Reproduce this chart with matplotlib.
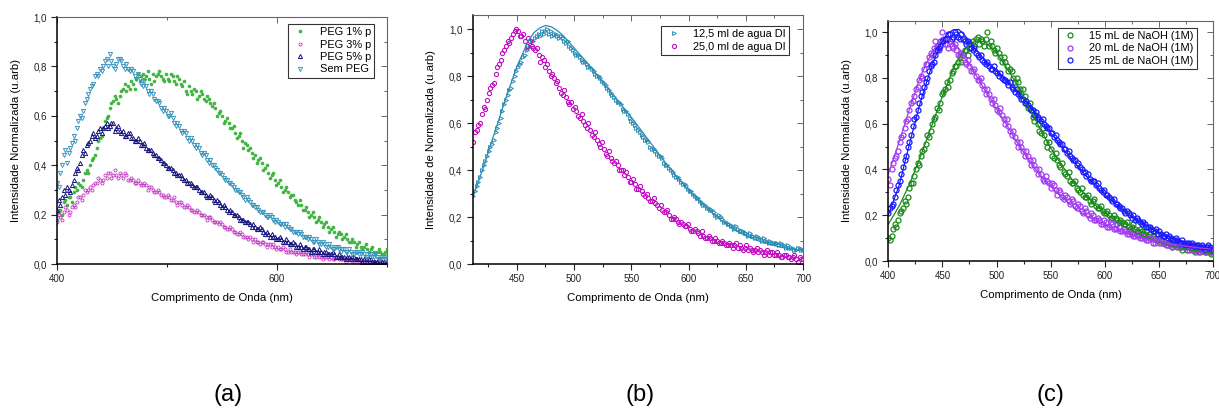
import matplotlib
matplotlib.use("Agg")
import matplotlib.pyplot as plt
import numpy as np
from matplotlib.ticker import FuncFormatter, MultipleLocator

plt.rcParams["font.family"] = ["Liberation Sans", "DejaVu Sans"]

# ---- panel (a): PEG series, wavelength grid 400..700 nm every 1.5 nm
wl_a = np.arange(400, 700.1, 1.5)
peg1 = [0.18, 0.21, 0.22, 0.20, 0.25, 0.26, 0.24, 0.27, 0.27, 0.25, 0.29, 0.31, 0.30, 0.33, 0.32, 0.31, 0.34, 0.37, 0.38, 0.37,
        0.40, 0.42, 0.43, 0.44, 0.47, 0.50, 0.51, 0.52, 0.55, 0.58, 0.59, 0.60, 0.63, 0.65, 0.66, 0.68, 0.67, 0.65, 0.68, 0.70,
        0.71, 0.73, 0.70, 0.72, 0.71, 0.74, 0.73, 0.71, 0.75, 0.77, 0.74, 0.76, 0.77, 0.75, 0.76, 0.78, 0.75, 0.73, 0.77, 0.74,
        0.76, 0.77, 0.78, 0.76, 0.75, 0.74, 0.77, 0.75, 0.74, 0.77, 0.76, 0.74, 0.73, 0.76, 0.75, 0.73, 0.72, 0.74, 0.70, 0.69,
        0.72, 0.70, 0.69, 0.71, 0.70, 0.67, 0.68, 0.70, 0.69, 0.67, 0.66, 0.68, 0.67, 0.65, 0.64, 0.65, 0.63, 0.60, 0.61, 0.62,
        0.60, 0.57, 0.58, 0.59, 0.57, 0.55, 0.55, 0.56, 0.53, 0.51, 0.52, 0.53, 0.50, 0.47, 0.49, 0.48, 0.46, 0.47, 0.45, 0.43,
        0.44, 0.41, 0.42, 0.43, 0.41, 0.38, 0.39, 0.40, 0.37, 0.35, 0.36, 0.37, 0.34, 0.32, 0.33, 0.34, 0.31, 0.29, 0.30, 0.31,
        0.29, 0.27, 0.28, 0.28, 0.26, 0.25, 0.24, 0.26, 0.24, 0.22, 0.22, 0.23, 0.21, 0.19, 0.20, 0.21, 0.19, 0.17, 0.18, 0.19,
        0.17, 0.15, 0.16, 0.17, 0.15, 0.13, 0.14, 0.15, 0.13, 0.11, 0.12, 0.13, 0.12, 0.10, 0.11, 0.12, 0.10, 0.09, 0.09, 0.10,
        0.09, 0.07, 0.08, 0.09, 0.07, 0.06, 0.07, 0.08, 0.06, 0.05, 0.06, 0.07, 0.05, 0.04, 0.05, 0.06, 0.05, 0.04, 0.04, 0.05,
        0.06]
peg3 = [0.17, 0.20, 0.19, 0.18, 0.21, 0.23, 0.22, 0.20, 0.21, 0.23, 0.24, 0.23, 0.25, 0.27, 0.27, 0.26, 0.28, 0.30, 0.29, 0.30,
        0.31, 0.30, 0.32, 0.33, 0.33, 0.35, 0.34, 0.33, 0.34, 0.36, 0.35, 0.37, 0.37, 0.35, 0.36, 0.38, 0.36, 0.35, 0.37, 0.36,
        0.35, 0.37, 0.36, 0.34, 0.34, 0.35, 0.34, 0.33, 0.33, 0.34, 0.33, 0.32, 0.32, 0.33, 0.32, 0.30, 0.31, 0.31, 0.30, 0.29,
        0.29, 0.30, 0.29, 0.28, 0.28, 0.27, 0.27, 0.28, 0.27, 0.26, 0.26, 0.27, 0.25, 0.24, 0.25, 0.25, 0.24, 0.23, 0.23, 0.24,
        0.23, 0.22, 0.22, 0.21, 0.21, 0.22, 0.21, 0.20, 0.20, 0.20, 0.19, 0.18, 0.19, 0.19, 0.18, 0.17, 0.17, 0.17, 0.16, 0.17,
        0.16, 0.15, 0.15, 0.14, 0.14, 0.15, 0.14, 0.13, 0.13, 0.12, 0.12, 0.13, 0.12, 0.11, 0.11, 0.11, 0.10, 0.11, 0.10, 0.09,
        0.10, 0.09, 0.09, 0.08, 0.09, 0.09, 0.08, 0.07, 0.08, 0.08, 0.07, 0.08, 0.07, 0.06, 0.07, 0.06, 0.06, 0.07, 0.06, 0.05,
        0.05, 0.06, 0.05, 0.05, 0.05, 0.04, 0.05, 0.05, 0.04, 0.04, 0.04, 0.05, 0.04, 0.03, 0.04, 0.04, 0.03, 0.03, 0.04, 0.03,
        0.03, 0.02, 0.03, 0.03, 0.03, 0.02, 0.03, 0.02, 0.02, 0.03, 0.03, 0.02, 0.02, 0.02, 0.02, 0.01, 0.02, 0.02, 0.02, 0.01,
        0.01, 0.02, 0.02, 0.01, 0.01, 0.01, 0.01, 0.02, 0.01, 0.01, 0.01, 0.00, 0.01, 0.01, 0.01, 0.01, 0.00, 0.01, 0.01, 0.00,
        0.00]
peg5 = [0.22, 0.26, 0.24, 0.27, 0.30, 0.28, 0.31, 0.30, 0.29, 0.32, 0.34, 0.37, 0.39, 0.38, 0.41, 0.44, 0.46, 0.45, 0.48, 0.49,
        0.50, 0.52, 0.53, 0.51, 0.52, 0.54, 0.55, 0.53, 0.55, 0.56, 0.57, 0.55, 0.56, 0.57, 0.57, 0.54, 0.55, 0.56, 0.54, 0.53,
        0.54, 0.52, 0.52, 0.53, 0.53, 0.51, 0.51, 0.50, 0.50, 0.51, 0.50, 0.48, 0.48, 0.49, 0.47, 0.46, 0.46, 0.46, 0.45, 0.44,
        0.44, 0.43, 0.43, 0.42, 0.41, 0.41, 0.40, 0.39, 0.39, 0.39, 0.38, 0.37, 0.37, 0.36, 0.36, 0.36, 0.35, 0.34, 0.34, 0.33,
        0.33, 0.33, 0.32, 0.31, 0.31, 0.31, 0.30, 0.29, 0.29, 0.29, 0.28, 0.27, 0.27, 0.28, 0.27, 0.26, 0.25, 0.26, 0.25, 0.24,
        0.23, 0.24, 0.23, 0.22, 0.21, 0.22, 0.21, 0.20, 0.20, 0.20, 0.19, 0.18, 0.18, 0.18, 0.17, 0.17, 0.17, 0.16, 0.15, 0.16,
        0.15, 0.14, 0.14, 0.15, 0.14, 0.13, 0.12, 0.13, 0.12, 0.11, 0.12, 0.11, 0.11, 0.10, 0.10, 0.11, 0.10, 0.09, 0.09, 0.10,
        0.09, 0.08, 0.08, 0.09, 0.08, 0.07, 0.07, 0.08, 0.07, 0.06, 0.07, 0.07, 0.06, 0.06, 0.05, 0.06, 0.06, 0.05, 0.05, 0.06,
        0.05, 0.04, 0.05, 0.05, 0.04, 0.04, 0.04, 0.05, 0.04, 0.03, 0.03, 0.04, 0.03, 0.03, 0.03, 0.02, 0.03, 0.03, 0.02, 0.03,
        0.03, 0.02, 0.02, 0.02, 0.02, 0.01, 0.02, 0.02, 0.01, 0.02, 0.02, 0.01, 0.01, 0.01, 0.01, 0.02, 0.01, 0.01, 0.01, 0.00,
        0.01]
sem_peg = [0.33, 0.31, 0.37, 0.40, 0.44, 0.46, 0.41, 0.45, 0.47, 0.49, 0.52, 0.50, 0.55, 0.58, 0.60, 0.59, 0.62, 0.65, 0.67, 0.69,
           0.71, 0.72, 0.73, 0.76, 0.77, 0.76, 0.79, 0.78, 0.80, 0.82, 0.83, 0.80, 0.85, 0.82, 0.80, 0.79, 0.81, 0.83, 0.83, 0.82,
           0.80, 0.79, 0.81, 0.79, 0.78, 0.79, 0.78, 0.76, 0.75, 0.77, 0.75, 0.73, 0.72, 0.74, 0.72, 0.70, 0.69, 0.70, 0.69, 0.67,
           0.66, 0.66, 0.65, 0.63, 0.62, 0.63, 0.62, 0.60, 0.60, 0.61, 0.59, 0.57, 0.56, 0.57, 0.56, 0.54, 0.53, 0.54, 0.53, 0.51,
           0.50, 0.51, 0.50, 0.48, 0.47, 0.48, 0.47, 0.45, 0.44, 0.45, 0.44, 0.42, 0.41, 0.42, 0.40, 0.40, 0.39, 0.38, 0.37, 0.37,
           0.36, 0.35, 0.34, 0.34, 0.33, 0.33, 0.32, 0.31, 0.30, 0.30, 0.29, 0.29, 0.28, 0.27, 0.26, 0.27, 0.26, 0.25, 0.24, 0.24,
           0.23, 0.23, 0.22, 0.21, 0.21, 0.21, 0.20, 0.19, 0.19, 0.20, 0.19, 0.18, 0.17, 0.18, 0.17, 0.16, 0.16, 0.16, 0.15, 0.16,
           0.15, 0.14, 0.14, 0.13, 0.13, 0.13, 0.12, 0.13, 0.12, 0.11, 0.11, 0.11, 0.10, 0.11, 0.10, 0.09, 0.09, 0.10, 0.09, 0.08,
           0.08, 0.09, 0.08, 0.07, 0.07, 0.08, 0.07, 0.06, 0.06, 0.07, 0.07, 0.06, 0.05, 0.06, 0.06, 0.05, 0.05, 0.06, 0.05, 0.04,
           0.04, 0.05, 0.05, 0.04, 0.04, 0.05, 0.04, 0.03, 0.03, 0.04, 0.04, 0.03, 0.03, 0.04, 0.03, 0.02, 0.02, 0.03, 0.03, 0.02,
           0.02]

# ---- panel (b): agua DI, grid 412..700 nm every 1.5 nm
wl_b = np.arange(412, 700.1, 1.5)
agua_125 = [0.29, 0.31, 0.33, 0.35, 0.37, 0.40, 0.42, 0.44, 0.46, 0.48, 0.50, 0.51, 0.53, 0.56, 0.58, 0.60, 0.62, 0.65, 0.68, 0.70,
            0.72, 0.74, 0.75, 0.78, 0.80, 0.82, 0.84, 0.85, 0.86, 0.88, 0.89, 0.91, 0.92, 0.93, 0.95, 0.95, 0.96, 0.97, 0.98, 0.97,
            0.99, 0.98, 0.99, 1.00, 0.98, 0.99, 0.97, 0.98, 0.98, 0.97, 0.96, 0.97, 0.96, 0.95, 0.94, 0.95, 0.93, 0.92, 0.91, 0.90,
            0.89, 0.89, 0.88, 0.87, 0.86, 0.86, 0.85, 0.84, 0.84, 0.83, 0.82, 0.81, 0.80, 0.80, 0.79, 0.78, 0.77, 0.76, 0.75, 0.74,
            0.73, 0.72, 0.71, 0.70, 0.69, 0.69, 0.68, 0.66, 0.65, 0.65, 0.64, 0.62, 0.61, 0.60, 0.59, 0.58, 0.57, 0.56, 0.55, 0.54,
            0.53, 0.53, 0.52, 0.50, 0.49, 0.49, 0.48, 0.47, 0.46, 0.46, 0.45, 0.43, 0.42, 0.42, 0.41, 0.40, 0.39, 0.38, 0.37, 0.37,
            0.36, 0.35, 0.34, 0.34, 0.33, 0.32, 0.31, 0.31, 0.30, 0.29, 0.28, 0.28, 0.27, 0.26, 0.25, 0.25, 0.24, 0.24, 0.23, 0.23,
            0.22, 0.21, 0.20, 0.21, 0.20, 0.19, 0.18, 0.18, 0.17, 0.17, 0.16, 0.16, 0.15, 0.16, 0.15, 0.14, 0.14, 0.14, 0.13, 0.13,
            0.12, 0.13, 0.12, 0.12, 0.11, 0.12, 0.11, 0.11, 0.10, 0.11, 0.10, 0.10, 0.09, 0.10, 0.09, 0.09, 0.09, 0.09, 0.08, 0.09,
            0.08, 0.08, 0.07, 0.08, 0.07, 0.07, 0.07, 0.06, 0.06, 0.07, 0.07, 0.06, 0.06]
agua_250 = [0.52, 0.56, 0.57, 0.59, 0.60, 0.64, 0.67, 0.66, 0.70, 0.73, 0.75, 0.76, 0.77, 0.81, 0.84, 0.85, 0.87, 0.90, 0.91, 0.93,
            0.95, 0.94, 0.96, 0.98, 0.99, 1.00, 0.99, 0.97, 0.97, 0.98, 0.95, 0.93, 0.96, 0.95, 0.93, 0.92, 0.91, 0.92, 0.89, 0.86,
            0.88, 0.87, 0.84, 0.85, 0.82, 0.80, 0.81, 0.79, 0.77, 0.78, 0.75, 0.73, 0.72, 0.74, 0.71, 0.69, 0.68, 0.69, 0.66, 0.67,
            0.65, 0.63, 0.62, 0.64, 0.61, 0.59, 0.58, 0.60, 0.57, 0.55, 0.54, 0.56, 0.53, 0.51, 0.50, 0.52, 0.49, 0.47, 0.46, 0.48,
            0.45, 0.44, 0.43, 0.44, 0.42, 0.40, 0.40, 0.40, 0.38, 0.39, 0.37, 0.35, 0.35, 0.36, 0.34, 0.32, 0.32, 0.33, 0.31, 0.30,
            0.29, 0.30, 0.28, 0.27, 0.27, 0.28, 0.26, 0.25, 0.24, 0.25, 0.23, 0.22, 0.22, 0.23, 0.21, 0.19, 0.19, 0.20, 0.19, 0.18,
            0.17, 0.18, 0.17, 0.16, 0.16, 0.17, 0.15, 0.14, 0.14, 0.15, 0.14, 0.13, 0.12, 0.14, 0.12, 0.11, 0.11, 0.12, 0.11, 0.10,
            0.10, 0.11, 0.10, 0.09, 0.09, 0.10, 0.09, 0.08, 0.08, 0.09, 0.08, 0.07, 0.08, 0.09, 0.07, 0.08, 0.07, 0.06, 0.07, 0.08,
            0.06, 0.07, 0.06, 0.05, 0.06, 0.07, 0.05, 0.06, 0.05, 0.04, 0.05, 0.06, 0.04, 0.05, 0.05, 0.04, 0.04, 0.05, 0.04, 0.03,
            0.03, 0.04, 0.04, 0.03, 0.03, 0.02, 0.03, 0.04, 0.02, 0.01, 0.03, 0.02, 0.02]
fit_b_x = [412, 420, 430, 440, 450, 460, 465, 470, 475, 480, 485, 490,
           500, 510, 520, 530, 540, 550, 560, 570, 580, 590, 600, 610,
           620, 630, 640, 650, 660, 670, 680, 690, 700]
fit_125 = [0.29, 0.40, 0.55, 0.70, 0.84, 0.95, 0.985, 1.005, 1.015, 1.01,
           0.995, 0.975, 0.92, 0.865, 0.805, 0.745, 0.685, 0.625, 0.56,
           0.495, 0.43, 0.37, 0.315, 0.265, 0.22, 0.18, 0.145, 0.12, 0.10,
           0.085, 0.072, 0.063, 0.058]

# ---- panel (c): NaOH, grid 400..700 nm every 1.5 nm
wl_c = np.arange(400, 700.1, 1.5)
naoh_15 = [0.10, 0.09, 0.11, 0.14, 0.16, 0.15, 0.18, 0.21, 0.22, 0.23, 0.26, 0.25, 0.28, 0.32, 0.34, 0.34, 0.37, 0.40, 0.43, 0.42,
           0.46, 0.48, 0.49, 0.51, 0.55, 0.54, 0.57, 0.60, 0.62, 0.63, 0.67, 0.66, 0.69, 0.73, 0.74, 0.75, 0.78, 0.76, 0.79, 0.82,
           0.83, 0.85, 0.85, 0.87, 0.89, 0.87, 0.90, 0.92, 0.92, 0.90, 0.93, 0.95, 0.96, 0.94, 0.97, 0.98, 0.95, 0.97, 0.96, 0.94,
           0.97, 1.00, 0.94, 0.96, 0.94, 0.92, 0.91, 0.93, 0.91, 0.89, 0.87, 0.89, 0.87, 0.85, 0.83, 0.84, 0.83, 0.80, 0.78, 0.80,
           0.78, 0.75, 0.73, 0.75, 0.72, 0.69, 0.67, 0.69, 0.66, 0.63, 0.61, 0.64, 0.60, 0.57, 0.56, 0.58, 0.55, 0.52, 0.50, 0.52,
           0.49, 0.46, 0.45, 0.47, 0.44, 0.42, 0.41, 0.43, 0.39, 0.38, 0.37, 0.39, 0.35, 0.34, 0.34, 0.35, 0.32, 0.31, 0.30, 0.32,
           0.29, 0.28, 0.28, 0.29, 0.26, 0.25, 0.26, 0.27, 0.24, 0.23, 0.23, 0.24, 0.22, 0.21, 0.21, 0.22, 0.20, 0.19, 0.19, 0.20,
           0.19, 0.18, 0.17, 0.18, 0.17, 0.16, 0.16, 0.17, 0.15, 0.14, 0.15, 0.16, 0.14, 0.13, 0.13, 0.14, 0.13, 0.12, 0.12, 0.13,
           0.11, 0.12, 0.10, 0.11, 0.10, 0.09, 0.09, 0.10, 0.09, 0.08, 0.08, 0.09, 0.07, 0.08, 0.07, 0.06, 0.07, 0.08, 0.06, 0.07,
           0.06, 0.05, 0.06, 0.07, 0.05, 0.06, 0.06, 0.05, 0.05, 0.04, 0.05, 0.06, 0.04, 0.05, 0.05, 0.04, 0.04, 0.05, 0.04, 0.03,
           0.04]
naoh_20 = [0.36, 0.33, 0.40, 0.43, 0.45, 0.46, 0.48, 0.52, 0.54, 0.55, 0.58, 0.61, 0.62, 0.66, 0.69, 0.70, 0.72, 0.75, 0.76, 0.79,
           0.81, 0.80, 0.84, 0.86, 0.86, 0.89, 0.91, 0.90, 0.93, 0.96, 0.94, 0.92, 0.96, 1.00, 0.97, 0.95, 0.95, 0.93, 0.96, 0.94,
           0.93, 0.95, 0.92, 0.90, 0.90, 0.91, 0.90, 0.87, 0.86, 0.88, 0.85, 0.83, 0.83, 0.84, 0.81, 0.79, 0.79, 0.80, 0.77, 0.75,
           0.73, 0.75, 0.73, 0.71, 0.69, 0.71, 0.68, 0.66, 0.65, 0.67, 0.64, 0.62, 0.60, 0.62, 0.59, 0.57, 0.55, 0.57, 0.54, 0.52,
           0.50, 0.52, 0.50, 0.48, 0.46, 0.48, 0.46, 0.44, 0.42, 0.44, 0.42, 0.40, 0.38, 0.40, 0.38, 0.36, 0.35, 0.37, 0.35, 0.34,
           0.32, 0.34, 0.33, 0.31, 0.29, 0.31, 0.30, 0.28, 0.27, 0.29, 0.28, 0.26, 0.25, 0.27, 0.26, 0.24, 0.23, 0.25, 0.24, 0.22,
           0.21, 0.23, 0.22, 0.20, 0.19, 0.21, 0.20, 0.18, 0.18, 0.19, 0.18, 0.16, 0.16, 0.18, 0.17, 0.15, 0.15, 0.17, 0.16, 0.14,
           0.14, 0.16, 0.15, 0.13, 0.13, 0.14, 0.13, 0.12, 0.12, 0.13, 0.12, 0.11, 0.11, 0.12, 0.11, 0.10, 0.10, 0.11, 0.10, 0.09,
           0.09, 0.10, 0.10, 0.08, 0.08, 0.09, 0.09, 0.08, 0.08, 0.09, 0.08, 0.07, 0.07, 0.08, 0.08, 0.06, 0.07, 0.08, 0.07, 0.06,
           0.06, 0.07, 0.07, 0.06, 0.06, 0.05, 0.06, 0.07, 0.05, 0.06, 0.06, 0.04, 0.05, 0.06, 0.05, 0.04, 0.05, 0.06, 0.05, 0.04,
           0.05]
naoh_25 = [0.21, 0.23, 0.24, 0.25, 0.28, 0.31, 0.33, 0.35, 0.38, 0.41, 0.44, 0.46, 0.50, 0.52, 0.55, 0.59, 0.62, 0.63, 0.66, 0.69,
           0.72, 0.74, 0.76, 0.78, 0.80, 0.83, 0.85, 0.86, 0.87, 0.90, 0.92, 0.93, 0.94, 0.96, 0.96, 0.97, 0.97, 0.99, 0.99, 0.97,
           0.98, 1.00, 0.99, 0.98, 0.97, 0.99, 0.97, 0.96, 0.95, 0.96, 0.95, 0.93, 0.92, 0.93, 0.91, 0.90, 0.89, 0.90, 0.88, 0.87,
           0.86, 0.87, 0.85, 0.84, 0.84, 0.85, 0.83, 0.82, 0.81, 0.82, 0.80, 0.79, 0.79, 0.78, 0.77, 0.78, 0.76, 0.75, 0.74, 0.75,
           0.73, 0.72, 0.71, 0.71, 0.69, 0.70, 0.68, 0.67, 0.66, 0.66, 0.64, 0.65, 0.63, 0.62, 0.61, 0.62, 0.60, 0.59, 0.58, 0.58,
           0.56, 0.56, 0.54, 0.55, 0.53, 0.52, 0.51, 0.51, 0.49, 0.49, 0.47, 0.48, 0.46, 0.45, 0.44, 0.44, 0.42, 0.43, 0.41, 0.40,
           0.39, 0.39, 0.37, 0.38, 0.36, 0.35, 0.35, 0.35, 0.33, 0.34, 0.32, 0.31, 0.30, 0.31, 0.29, 0.29, 0.28, 0.27, 0.26, 0.27,
           0.25, 0.25, 0.24, 0.23, 0.23, 0.22, 0.21, 0.22, 0.21, 0.20, 0.19, 0.20, 0.18, 0.19, 0.18, 0.17, 0.16, 0.17, 0.16, 0.15,
           0.15, 0.15, 0.14, 0.13, 0.13, 0.14, 0.12, 0.13, 0.12, 0.11, 0.11, 0.12, 0.10, 0.11, 0.10, 0.09, 0.09, 0.10, 0.09, 0.08,
           0.08, 0.09, 0.08, 0.07, 0.08, 0.08, 0.07, 0.08, 0.07, 0.06, 0.07, 0.07, 0.06, 0.07, 0.06, 0.05, 0.06, 0.07, 0.06, 0.05,
           0.05]
fit_c_x = [400, 410, 420, 430, 440, 445, 450, 455, 460, 465, 470, 475,
           480, 485, 490, 500, 510, 520, 530, 540, 550, 560, 570, 580,
           590, 600, 610, 620, 630, 640, 650, 660, 670, 680, 690, 700]
fit_15 = [0.16, 0.24, 0.34, 0.46, 0.59, 0.655, 0.72, 0.78, 0.84, 0.885,
          0.92, 0.945, 0.96, 0.962, 0.955, 0.91, 0.84, 0.76, 0.67, 0.58,
          0.495, 0.42, 0.355, 0.30, 0.25, 0.21, 0.175, 0.145, 0.12, 0.10,
          0.082, 0.068, 0.057, 0.048, 0.041, 0.036]
fit_20 = [0.38, 0.52, 0.67, 0.81, 0.91, 0.945, 0.965, 0.97, 0.955, 0.93,
          0.90, 0.86, 0.82, 0.78, 0.74, 0.665, 0.59, 0.51, 0.44, 0.375,
          0.325, 0.28, 0.24, 0.205, 0.18, 0.155, 0.135, 0.12, 0.105, 0.095,
          0.085, 0.075, 0.068, 0.062, 0.056, 0.052]
fit_25 = [0.20, 0.33, 0.52, 0.70, 0.85, 0.91, 0.96, 0.995, 1.01, 1.012,
          0.99, 0.96, 0.93, 0.90, 0.87, 0.83, 0.785, 0.735, 0.68, 0.62,
          0.56, 0.50, 0.44, 0.385, 0.335, 0.29, 0.25, 0.21, 0.18, 0.15,
          0.125, 0.105, 0.09, 0.075, 0.065, 0.055]

comma = FuncFormatter(lambda v, pos: f"{v:.1f}".replace(".", ","))


def style_axes(ax, xmajor, xminor):
    ax.xaxis.set_major_locator(MultipleLocator(xmajor))
    ax.xaxis.set_minor_locator(MultipleLocator(xminor))
    ax.yaxis.set_major_locator(MultipleLocator(0.2))
    ax.yaxis.set_minor_locator(MultipleLocator(0.1))
    ax.yaxis.set_major_formatter(comma)
    ax.tick_params(which="both", direction="out", top=False, right=False,
                   labelsize=7, colors="#222222", width=0.8)
    ax.tick_params(which="major", length=4)
    ax.tick_params(which="minor", length=2.5)
    for side in ["left", "bottom"]:
        ax.spines[side].set_linewidth(1.1)
        ax.spines[side].set_color("black")
    for side in ["top", "right"]:
        ax.spines[side].set_linewidth(0.8)
        ax.spines[side].set_color("#666666")
    # mirrored ticks pointing inward on top/right
    sec_x = ax.secondary_xaxis("top")
    sec_x.xaxis.set_major_locator(MultipleLocator(xmajor))
    sec_x.xaxis.set_minor_locator(MultipleLocator(xminor))
    sec_x.tick_params(which="both", direction="in", labeltop=False,
                      color="#666666", width=0.7)
    sec_x.tick_params(which="major", length=4)
    sec_x.tick_params(which="minor", length=2.5)
    sec_x.spines["top"].set_visible(False)
    sec_y = ax.secondary_yaxis("right")
    sec_y.yaxis.set_major_locator(MultipleLocator(0.2))
    sec_y.yaxis.set_minor_locator(MultipleLocator(0.1))
    sec_y.tick_params(which="both", direction="in", labelright=False,
                      color="#666666", width=0.7)
    sec_y.tick_params(which="major", length=4)
    sec_y.tick_params(which="minor", length=2.5)
    sec_y.spines["right"].set_visible(False)
    ax.set_xlabel("Comprimento de Onda (nm)", fontsize=8.2, labelpad=6)


def legend(ax, anchor):
    leg = ax.legend(loc="upper right", bbox_to_anchor=anchor, fontsize=7.9,
                    frameon=True, fancybox=False, edgecolor="black",
                    handlelength=1.6, handletextpad=1.0, borderpad=0.3,
                    labelspacing=0.22, numpoints=1, borderaxespad=0)
    leg.get_frame().set_linewidth(0.8)


fig = plt.figure(figsize=(12.19, 4.12), dpi=100)

# (a)
ax_a = fig.add_axes([0.0468, 0.3592, 0.2707, 0.5995])
ax_a.plot(wl_a, peg1, ls="none", marker="o", ms=2.0, mew=0.6,
          color="#3db43d", mfc="#3db43d", label="PEG 1% p")
ax_a.plot(wl_a, peg3, ls="none", marker="o", ms=2.2, mew=0.6,
          color="#c238c2", mfc="none", label="PEG 3% p")
ax_a.plot(wl_a, peg5, ls="none", marker="^", ms=3.0, mew=0.7,
          color="#14147e", mfc="none", label="PEG 5% p")
ax_a.plot(wl_a, sem_peg, ls="none", marker="v", ms=3.0, mew=0.7,
          color="#3a95bd", mfc="none", label="Sem PEG")
ax_a.set_xlim(400, 700)
ax_a.set_ylim(0, 1.0)
style_axes(ax_a, 200, 100)
ax_a.set_ylabel("Intensidade Normalizada (u.arb)", fontsize=8.2, labelpad=9)
legend(ax_a, (0.961, 0.972))

# (b)
ax_b = fig.add_axes([0.3878, 0.3592, 0.2710, 0.6044])
ax_b.plot(wl_b, agua_125, ls="none", marker=">", ms=2.8, mew=0.7,
          color="#2b8cb4", mfc="none", label="12,5 ml de agua DI")
ax_b.plot(wl_b, agua_250, ls="none", marker="o", ms=3.0, mew=0.8,
          color="#c010c0", mfc="none", label="25,0 ml de agua DI")
ax_b.plot(fit_b_x, fit_125, color="#2b8cb4", lw=0.9)
ax_b.set_xlim(411.5, 700)
ax_b.set_ylim(0, 1.06)
style_axes(ax_b, 50, 25)
ax_b.set_ylabel("Intensidade de Normalizada (u.arb)", fontsize=8.2, labelpad=9)
legend(ax_b, (0.958, 0.956))

# (c)
ax_c = fig.add_axes([0.7287, 0.3665, 0.2664, 0.5833])
ax_c.plot(wl_c, naoh_15, ls="none", marker="o", ms=3.6, mew=0.9,
          color="#1b8a1b", mfc="none", label="15 mL de NaOH (1M)")
ax_c.plot(wl_c, naoh_20, ls="none", marker="o", ms=3.6, mew=0.9,
          color="#a33cf0", mfc="none", label="20 mL de NaOH (1M)")
ax_c.plot(wl_c, naoh_25, ls="none", marker="o", ms=3.6, mew=0.9,
          color="#1a1aff", mfc="none", label="25 mL de NaOH (1M)")
ax_c.plot(fit_c_x, fit_15, color="#1b8a1b", lw=0.9)
ax_c.plot(fit_c_x, fit_20, color="#a33cf0", lw=0.9)
ax_c.plot(fit_c_x, fit_25, color="#1a1aff", lw=0.9)
ax_c.set_xlim(400, 700)
ax_c.set_ylim(0, 1.05)
style_axes(ax_c, 50, 25)
ax_c.set_ylabel("Intensidade Normalizada (u.arb)", fontsize=8.2, labelpad=9)
legend(ax_c, (0.951, 0.971))

for label, xc in [("(a)", 228), ("(b)", 640), ("(c)", 1050)]:
    fig.text(xc / 1219, 1 - 395 / 412, label, fontsize=17,
             ha="center", va="center")

fig.savefig("out.png", dpi=100)
